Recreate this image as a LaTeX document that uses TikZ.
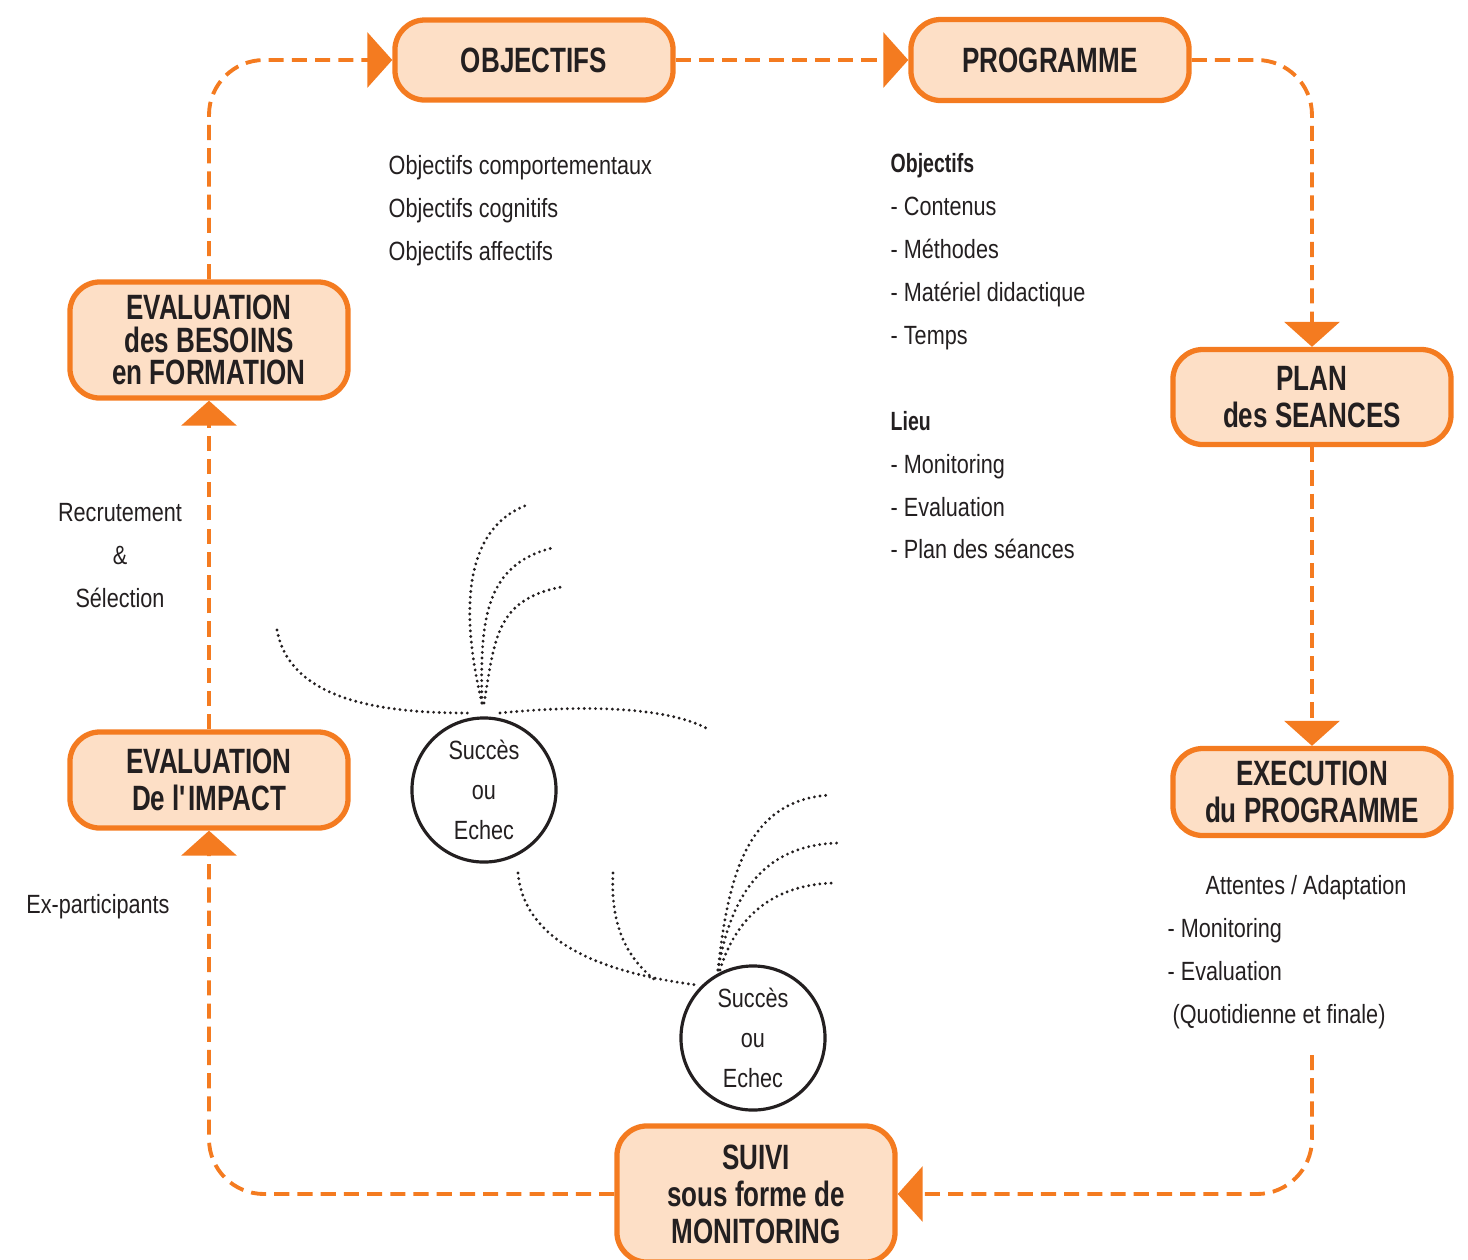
\documentclass[tikz,border=0pt]{standalone}
\usepackage{fontspec}
\setmainfont{Liberation Sans}[FakeStretch=0.82,BoldFeatures={FakeStretch=0.74}]
\usetikzlibrary{arrows.meta, positioning}
\definecolor{cycleorange}{RGB}{244,123,32}
\definecolor{cyclepeach}{RGB}{253,223,198}
\definecolor{inkgray}{RGB}{35,31,32}

\begin{document}
\begin{tikzpicture}[x=0.01cm, y=-0.01cm,
    stage/.style={rectangle, rounded corners=0.3cm, draw=cycleorange, line width=1.5pt, fill=cyclepeach, minimum width=2.78cm, align=center, text=inkgray, font=\fontsize{10}{10.5}\selectfont\bfseries, inner sep=2pt},
    flow/.style={draw=cycleorange, line width=1.1pt, dash pattern=on 4.3pt off 2.3pt, rounded corners=0.55cm, -{Triangle[length=0.25cm, width=0.55cm]}},
    note/.style={text=inkgray, font=\fontsize{7.5}{12.2}\selectfont, align=left, inner sep=0pt},
    verdict/.style={circle, draw=inkgray, line width=0.9pt, minimum size=1.44cm, align=center, text=inkgray, font=\fontsize{7.5}{11.4}\selectfont, inner sep=0pt},
    branch/.style={draw=inkgray, line width=0.9pt, line cap=round, dash pattern=on 0pt off 1.6pt}
]
\useasboundingbox (0,0) rectangle (1468,1259);

% Cycle stages
\node[stage, minimum height=0.80cm] (objectifs) at (534,60) {OBJECTIFS};
\node[stage, minimum height=0.81cm] (programme) at (1050,60) {PROGRAMME};
\node[stage, minimum height=0.95cm] (plan) at (1312,397) {PLAN\\des SEANCES};
\node[stage, minimum height=0.87cm] (execution) at (1312,792) {EXECUTION\\du PROGRAMME};
\node[stage, minimum height=1.36cm] (suivi) at (756,1194) {SUIVI\\sous forme de\\MONITORING};
\node[stage, minimum height=0.96cm] (impact) at (209,780) {EVALUATION\\De l\textquotesingle IMPACT};
\node[stage, minimum height=1.16cm, font=\fontsize{10}{9.2}\selectfont\bfseries] (besoins) at (209,340) {EVALUATION\\des BESOINS\\en FORMATION};

% Success or failure
\node[verdict] (verdict1) at (484,790) {Succès\\ou\\Echec};
\node[verdict] (verdict2) at (753,1038) {Succès\\ou\\Echec};

% Notes
\node[note, anchor=north west] (objlist) at (388,155) {Objectifs comportementaux\\Objectifs cognitifs\\Objectifs affectifs};
\node[note, anchor=north west] (proglist) at (890,153) {\textbf{Objectifs}\\- Contenus\\- Méthodes\\- Matériel didactique\\- Temps\\[12.2pt]\textbf{Lieu}\\- Monitoring\\- Evaluation\\- Plan des séances};
\node[note, anchor=north, align=center] (recrut) at (120,503) {Recrutement\\\&\\Sélection};
\node[note] (expart) at (98,907) {Ex-participants};
\node[note, anchor=north west] (execlist) at (1167,875) {\hspace*{0.38cm}Attentes / Adaptation\\- Monitoring\\- Evaluation\\\hspace*{0.05cm}(Quotidienne et finale)};

% Arrows
\coordinate (execout) at (1312,1055);
\draw[flow] (besoins.north) |- (objectifs.west);
\draw[flow] (objectifs.east) -- (programme.west);
\draw[flow] (programme.east) -| (plan.north);
\draw[flow] (plan.south) -- (execution.north);
\draw[flow] (execout) |- (suivi.east);
\draw[flow] (suivi.west) -| (impact.south);
\draw[flow] (impact.north) -- (besoins.south);

% Branches round the first verdict
\draw[branch] (277,630) .. controls (290,700) and (380,713) .. (468,713);
\draw[branch] (500,713) .. controls (590,704) and (670,708) .. (708,729);
\draw[branch] (482,703) .. controls (462,620) and (460,530) .. (527,505);
\draw[branch] (482,703) .. controls (480,620) and (485,565) .. (552,548);
\draw[branch] (484,703) .. controls (495,640) and (495,600) .. (561,587);

% Branches round the second verdict
\draw[branch] (518,873) .. controls (525,950) and (620,975) .. (697,985);
\draw[branch] (613,873) .. controls (610,930) and (630,960) .. (655,980);
\draw[branch] (718,970) .. controls (728,880) and (745,800) .. (830,795);
\draw[branch] (718,970) .. controls (730,900) and (760,845) .. (838,843);
\draw[branch] (720,970) .. controls (735,920) and (770,885) .. (833,883);
\end{tikzpicture}
\end{document}
